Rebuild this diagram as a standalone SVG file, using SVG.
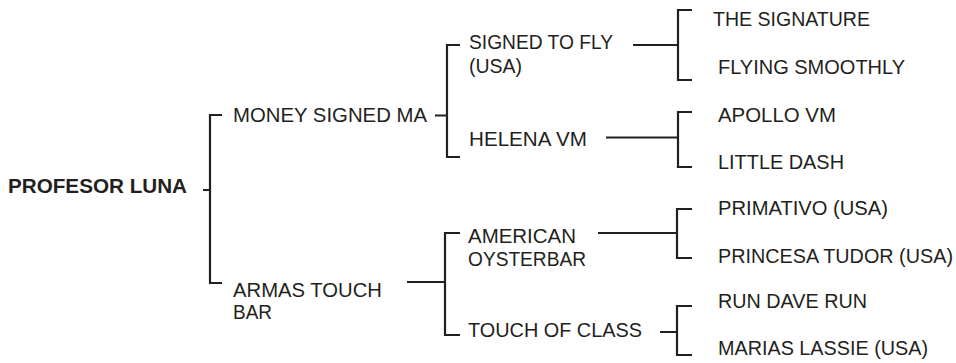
<svg xmlns="http://www.w3.org/2000/svg" width="956" height="363" viewBox="0 0 956 363">
<style>
.bg{fill:#ffffff}
text{font-family:"Liberation Sans",Arial,sans-serif;font-size:20px;fill:#231f20}
.root{font-weight:bold;font-size:20.5px}
.c{fill:none;stroke:#231f20;stroke-width:2.2;stroke-linecap:butt;stroke-linejoin:miter}
</style>
<rect class="bg" x="0" y="0" width="956" height="363"/>
<g id="connectors">
<path class="c" d="M203,190 H210 M222,115 H210 V283 H222"/>
<path class="c" d="M435,115.5 H447 M460,45 H447 V157 H460"/>
<path class="c" d="M407,282 H445 M460,233 H445 V335 H460"/>
<path class="c" d="M633,45 H678 M692,10 H678 V80 H692"/>
<path class="c" d="M606,137.5 H678 M692,112 H678 V167 H692"/>
<path class="c" d="M598,233 H677 M692,209 H677 V258 H692"/>
<path class="c" d="M660,332 H677 M692,306 H677 V355 H692"/>
</g>
<g id="profesor-luna"><text class="root" x="8" y="193" textLength="179" lengthAdjust="spacingAndGlyphs">PROFESOR LUNA</text></g>
<g id="money-signed-ma"><text x="233" y="122" textLength="194" lengthAdjust="spacingAndGlyphs">MONEY SIGNED MA</text></g>
<g id="armas-touch-bar"><text x="233" y="297" textLength="149" lengthAdjust="spacingAndGlyphs">ARMAS TOUCH</text><text x="233" y="319" textLength="39" lengthAdjust="spacingAndGlyphs">BAR</text></g>
<g id="signed-to-fly"><text x="469" y="49" textLength="144" lengthAdjust="spacingAndGlyphs">SIGNED TO FLY</text><text x="469" y="73" textLength="53" lengthAdjust="spacingAndGlyphs">(USA)</text></g>
<g id="helena-vm"><text x="469" y="146" textLength="118" lengthAdjust="spacingAndGlyphs">HELENA VM</text></g>
<g id="american-oysterbar"><text x="468" y="243" textLength="108" lengthAdjust="spacingAndGlyphs">AMERICAN</text><text x="468" y="266" textLength="118" lengthAdjust="spacingAndGlyphs">OYSTERBAR</text></g>
<g id="touch-of-class"><text x="468" y="337" textLength="174" lengthAdjust="spacingAndGlyphs">TOUCH OF CLASS</text></g>
<g id="the-signature"><text x="713" y="26" textLength="157" lengthAdjust="spacingAndGlyphs">THE SIGNATURE</text></g>
<g id="flying-smoothly"><text x="718" y="74" textLength="187" lengthAdjust="spacingAndGlyphs">FLYING SMOOTHLY</text></g>
<g id="apollo-vm"><text x="718" y="122" textLength="118" lengthAdjust="spacingAndGlyphs">APOLLO VM</text></g>
<g id="little-dash"><text x="718" y="169" textLength="126" lengthAdjust="spacingAndGlyphs">LITTLE DASH</text></g>
<g id="primativo"><text x="718" y="215" textLength="170" lengthAdjust="spacingAndGlyphs">PRIMATIVO (USA)</text></g>
<g id="princesa-tudor"><text x="718" y="263" textLength="235" lengthAdjust="spacingAndGlyphs">PRINCESA TUDOR (USA)</text></g>
<g id="run-dave-run"><text x="718" y="308" textLength="149" lengthAdjust="spacingAndGlyphs">RUN DAVE RUN</text></g>
<g id="marias-lassie"><text x="718" y="355" textLength="210" lengthAdjust="spacingAndGlyphs">MARIAS LASSIE (USA)</text></g>
</svg>
